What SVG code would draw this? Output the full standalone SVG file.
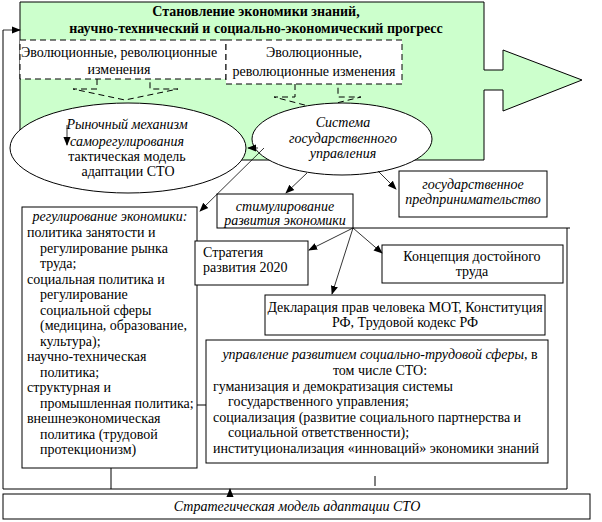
<svg xmlns="http://www.w3.org/2000/svg" width="602" height="522" viewBox="0 0 602 522">
<defs>
<marker id="ah" viewBox="0 0 10 10" refX="9" refY="5" markerWidth="9" markerHeight="9" markerUnits="userSpaceOnUse" orient="auto">
<path d="M0,1 L10,5 L0,9 Z" fill="#000"/>
</marker>
</defs>

<g id="progress">
<path d="M20,2 H484 V70 H503 V50 L582,80 L503,111 V90 H484 V160 H20 Z" fill="#ccffcc" stroke="#000" stroke-width="1"/>
<text x="256" y="16" font-size="14" font-family="Liberation Serif" font-weight="bold" text-anchor="middle">Становление экономики знаний,</text>
<text x="256" y="33" font-size="14" font-family="Liberation Serif" font-weight="bold" text-anchor="middle">научно-технический и социально-экономический прогресс</text>
</g>

<g id="callout1">
<rect x="20" y="40" width="206" height="39" fill="#fff" stroke="#000" stroke-dasharray="6,4"/>
<path d="M97,79 V89 H73 L125,100 L178,89 H150 V79" fill="none" stroke="#000" stroke-dasharray="6,4"/>
<text x="119" y="57" font-size="14" font-family="Liberation Serif" text-anchor="middle">Эволюционные, революционные</text>
<text x="119" y="74" font-size="14" font-family="Liberation Serif" text-anchor="middle">изменения</text>
</g>

<g id="callout2">
<rect x="226" y="40" width="176" height="44" fill="#fff" stroke="#000" stroke-dasharray="6,4"/>
<path d="M295,84 V97 H274 L316,108 L361,97 H338 V84" fill="none" stroke="#000" stroke-dasharray="6,4"/>
<text x="314" y="57" font-size="14" font-family="Liberation Serif" text-anchor="middle">Эволюционные,</text>
<text x="314" y="76" font-size="14" font-family="Liberation Serif" text-anchor="middle">революционные изменения</text>
</g>

<g id="market">
<ellipse cx="128" cy="148" rx="118" ry="45" fill="#fff" stroke="#000"/>
<text x="127" y="129" font-size="14" font-family="Liberation Serif" font-style="italic" text-anchor="middle">Рыночный механизм</text>
<text x="127" y="146" font-size="14" font-family="Liberation Serif" font-style="italic" text-anchor="middle">саморегулирования</text>
<text x="127" y="161" font-size="14" font-family="Liberation Serif" text-anchor="middle">тактическая модель</text>
<text x="128" y="176" font-size="14" font-family="Liberation Serif" text-anchor="middle">адаптации СТО</text>
</g>

<g id="state">
<ellipse cx="342" cy="139" rx="90" ry="36" fill="#fff" stroke="#000"/>
<text x="343" y="127" font-size="14" font-family="Liberation Serif" font-style="italic" text-anchor="middle">Система</text>
<text x="343" y="143" font-size="14" font-family="Liberation Serif" font-style="italic" text-anchor="middle">государственного</text>
<text x="343" y="158" font-size="14" font-family="Liberation Serif" font-style="italic" text-anchor="middle">управления</text>
</g>

<g id="enterprise">
<rect x="399" y="171" width="148" height="46" fill="#fff" stroke="#000"/>
<text x="473" y="189" font-size="14" font-family="Liberation Serif" font-style="italic" text-anchor="middle">государственное</text>
<text x="473" y="204" font-size="14" font-family="Liberation Serif" font-style="italic" text-anchor="middle">предпринимательство</text>
</g>

<g id="stimul">
<rect x="217" y="194" width="136" height="34" fill="#fff" stroke="#000"/>
<text x="285" y="211" font-size="14" font-family="Liberation Serif" font-style="italic" text-anchor="middle">стимулирование</text>
<text x="285" y="225" font-size="14" font-family="Liberation Serif" font-style="italic" text-anchor="middle">развития экономики</text>
</g>

<g id="regulation">
<rect x="22" y="207" width="175" height="261" fill="#fff" stroke="#000"/>
<text x="110" y="221" font-size="14" font-family="Liberation Serif" font-style="italic" text-anchor="middle">регулирование экономики:</text>
<text x="27" y="237" font-size="14" font-family="Liberation Serif">политика занятости и</text>
<text x="40" y="252.5" font-size="14" font-family="Liberation Serif">регулирование рынка</text>
<text x="40" y="268" font-size="14" font-family="Liberation Serif">труда;</text>
<text x="27" y="283.5" font-size="14" font-family="Liberation Serif">социальная  политика и</text>
<text x="40" y="299" font-size="14" font-family="Liberation Serif">регулирование</text>
<text x="40" y="314.5" font-size="14" font-family="Liberation Serif">социальной сферы</text>
<text x="40" y="330" font-size="14" font-family="Liberation Serif">(медицина, образование,</text>
<text x="40" y="345.5" font-size="14" font-family="Liberation Serif">культура);</text>
<text x="27" y="361" font-size="14" font-family="Liberation Serif">научно-техническая</text>
<text x="40" y="376.5" font-size="14" font-family="Liberation Serif">политика;</text>
<text x="27" y="392" font-size="14" font-family="Liberation Serif">структурная и</text>
<text x="40" y="407.5" font-size="14" font-family="Liberation Serif">промышленная политика;</text>
<text x="27" y="423" font-size="14" font-family="Liberation Serif">внешнеэкономическая</text>
<text x="40" y="438.5" font-size="14" font-family="Liberation Serif">политика (трудовой</text>
<text x="40" y="454" font-size="14" font-family="Liberation Serif">протекционизм)</text>
</g>

<g id="strategy2020">
<rect x="195" y="241" width="113" height="44" fill="#fff" stroke="#000"/>
<text x="203" y="257" font-size="14" font-family="Liberation Serif">Стратегия</text>
<text x="203" y="272" font-size="14" font-family="Liberation Serif">развития 2020</text>
</g>

<g id="decentwork">
<rect x="382" y="245" width="181" height="38" fill="#fff" stroke="#000"/>
<text x="472" y="261" font-size="14" font-family="Liberation Serif" text-anchor="middle">Концепция достойного</text>
<text x="472" y="276" font-size="14" font-family="Liberation Serif" text-anchor="middle">труда</text>
</g>

<g id="declaration">
<rect x="265" y="295" width="280" height="40" fill="#fff" stroke="#000"/>
<text x="405" y="312" font-size="14" font-family="Liberation Serif" text-anchor="middle">Декларация прав человека МОТ, Конституция</text>
<text x="405" y="327" font-size="14" font-family="Liberation Serif" text-anchor="middle">РФ, Трудовой кодекс РФ</text>
</g>

<g id="management">
<rect x="206" y="340" width="342" height="123" fill="#fff" stroke="#000"/>
<text x="380" y="359" font-size="14" font-family="Liberation Serif" text-anchor="middle"><tspan font-style="italic">управление развитием социально-трудовой сферы</tspan>, в</text>
<text x="380" y="375" font-size="14" font-family="Liberation Serif" text-anchor="middle">том числе СТО:</text>
<text x="213" y="391" font-size="14" font-family="Liberation Serif">гуманизация и демократизация системы</text>
<text x="228" y="406" font-size="14" font-family="Liberation Serif">государственного управления;</text>
<text x="213" y="422" font-size="14" font-family="Liberation Serif">социализация (развитие социального партнерства и</text>
<text x="228" y="437" font-size="14" font-family="Liberation Serif">социальной ответственности);</text>
<text x="213" y="453" font-size="14" font-family="Liberation Serif">институционализация «инноваций» экономики знаний</text>
</g>

<g id="strategic">
<rect x="3" y="494" width="587" height="25" fill="#fff" stroke="#000"/>
<text x="297" y="511" font-size="14" font-family="Liberation Serif" font-style="italic" text-anchor="middle">Стратегическая модель адаптации СТО</text>
</g>

<g id="connectors" stroke="#000" fill="none">
<path d="M353,228 H570 M567,228 V489 M3,489 H567 M3,489 V30"/>
<path d="M111,468 V489 M197,405 H206 M375,476 V486"/>
<g stroke-width="0.8" marker-end="url(#ah)">
<path d="M3,30 H20"/>
<path d="M67,125 V145"/>
<path d="M258,148 H248"/>
<path d="M264,148 L200,211"/>
<path d="M307,173 L286,193"/>
<path d="M378,171 L396,189"/>
<path d="M353,228 L309,250"/>
<path d="M353,228 L382,253"/>
<path d="M353,228 L332,294"/>
<path d="M230,494 V489"/>
</g>
</g>
</svg>
